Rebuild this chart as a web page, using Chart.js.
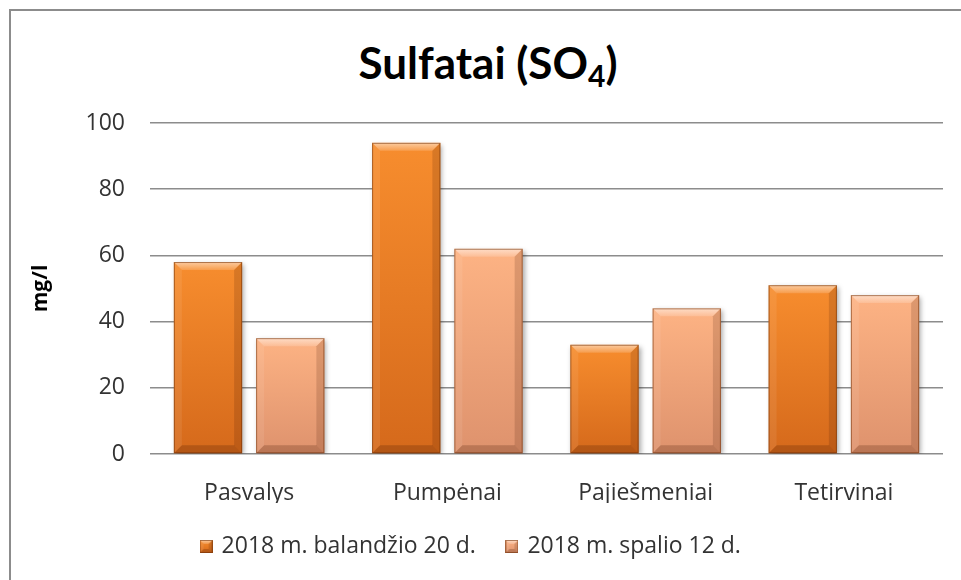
<!DOCTYPE html>
<html>
<head>
<meta charset="utf-8">
<script src="https://cdn.jsdelivr.net/npm/chart.js@4.4.1/dist/chart.umd.min.js"></script>
<style>
  html, body { margin: 0; padding: 0; background: #fff; overflow: hidden; }
  #wrap { position: relative; width: 961px; height: 580px; }
  #frame { position: absolute; left: 9px; top: 9px; width: 1000px; height: 700px; border: 2px solid #8c8c8c; border-right: none; border-bottom: none; }
  #title { position: absolute; left: 0; top: 36px; width: 976px; text-align: center; font-family: Lato, "Open Sans", sans-serif; font-weight: bold; font-size: 44px; color: #000; }
  #title sub { font-size: 30px; vertical-align: -8px; line-height: 0; }
  canvas { position: absolute; left: 0; top: 0; }
</style>
</head>
<body>
<div id="wrap">
  <div id="frame"></div>
  <div id="title">Sulfatai (SO<sub>4</sub>)</div>
  <canvas id="barChart" width="961" height="580"></canvas>
</div>
<script>
const categories = ['Pasvalys', 'Pumpėnai', 'Pajiešmeniai', 'Tetirvinai'];
const seriesNames = ['2018 m. balandžio 20 d.', '2018 m. spalio 12 d.'];
const aprilValues = [58, 94, 33, 51];
const octoberValues = [35, 62, 44, 48];
const yTicks = [0, 20, 40, 60, 80, 100];

const font = '"Open Sans", Lato, sans-serif';
const fontSize = 23;
const palette = [
    { top: '#f78d2e', bottom: '#d5691b' },
    { top: '#fdb384', bottom: '#de926d' }
];

// vertical gradient over the bar itself, from the value down to zero
function barFill(context) {
    const chart = context.chart;
    const colors = palette[context.datasetIndex];
    if (!chart.chartArea || context.raw === undefined) return colors.top;
    const y = chart.scales.y;
    const g = chart.ctx.createLinearGradient(0, y.getPixelForValue(context.raw), 0, y.getPixelForValue(0));
    g.addColorStop(0, colors.top);
    g.addColorStop(1, colors.bottom);
    return g;
}

// small bevelled square for the legend
function legendSwatch(colors) {
    const c = document.createElement('canvas');
    c.width = 13; c.height = 13;
    const x = c.getContext('2d');
    const g = x.createLinearGradient(0, 0, 0, 13);
    g.addColorStop(0, colors.top);
    g.addColorStop(1, colors.bottom);
    x.fillStyle = g;
    x.fillRect(0, 0, 13, 13);
    bevel(x, 0, 0, 13, 13, 4);
    return c;
}

function bevel(ctx, l, t, r, b, s) {
    const poly = (pts, fill) => {
        ctx.beginPath();
        ctx.moveTo(pts[0][0], pts[0][1]);
        for (let i = 1; i < pts.length; i++) ctx.lineTo(pts[i][0], pts[i][1]);
        ctx.closePath();
        ctx.fillStyle = fill;
        ctx.fill();
    };
    const tg = ctx.createLinearGradient(0, t, 0, t + s);
    tg.addColorStop(0, 'rgba(255,255,255,0.55)');
    tg.addColorStop(1, 'rgba(255,255,255,0.15)');
    poly([[l, t], [r, t], [r - s, t + s], [l + s, t + s]], tg);
    poly([[l, t], [l + s, t + s], [l + s, b - s], [l, b]], 'rgba(255,255,255,0.08)');
    poly([[r, t], [r, b], [r - s, b - s], [r - s, t + s]], 'rgba(60,20,0,0.16)');
    poly([[l, b], [l + s, b - s], [r - s, b - s], [r, b]], 'rgba(60,20,0,0.22)');
    ctx.strokeStyle = 'rgba(110,45,5,0.55)';
    ctx.lineWidth = 1;
    ctx.strokeRect(l + 0.5, t + 0.5, r - l - 1, b - t - 1);
}

const barBevel = {
    id: 'barBevel',
    beforeDatasetsDraw(chart) {
        const ctx = chart.ctx;
        ctx.save();
        ctx.shadowColor = 'rgba(0,0,0,0.35)';
        ctx.shadowBlur = 5;
        ctx.shadowOffsetX = 2;
        ctx.shadowOffsetY = 2;
    },
    afterDatasetsDraw(chart) {
        const ctx = chart.ctx;
        ctx.restore();
        ctx.save();
        chart.data.datasets.forEach((ds, i) => {
            chart.getDatasetMeta(i).data.forEach(bar => {
                const p = bar.getProps(['x', 'y', 'width', 'base'], true);
                bevel(ctx, p.x - p.width / 2, p.y, p.x + p.width / 2, p.base, 8);
            });
        });
        ctx.restore();
    }
};

new Chart(document.getElementById('barChart'), {
    type: 'bar',
    data: {
        labels: categories,
        datasets: [
            { label: seriesNames[0], data: aprilValues, backgroundColor: barFill, pointStyle: legendSwatch(palette[0]) },
            { label: seriesNames[1], data: octoberValues, backgroundColor: barFill, pointStyle: legendSwatch(palette[1]) }
        ]
    },
    options: {
        responsive: false,
        animation: false,
        events: [],
        categoryPercentage: 0.83,
        barPercentage: 0.83,
        layout: { padding: { top: 123, right: 18, bottom: 12, left: 0 } },
        scales: {
            x: {
                afterFit(scale) { scale.height = 49; },
                grid: { display: false },
                border: { display: false },
                ticks: { color: '#333', padding: 18, font: { family: font, size: fontSize } }
            },
            y: {
                min: 0,
                max: 100,
                afterBuildTicks(scale) { scale.ticks = yTicks.map(v => ({ value: v })); },
                afterFit(scale) { scale.width = 150; },
                grid: { color: '#8c8c8c', lineWidth: 1.5, drawTicks: false },
                border: { display: false },
                ticks: { color: '#333', padding: 25, font: { family: font, size: fontSize } },
                title: { display: true, text: 'mg/l', color: '#000', padding: { top: 28, bottom: 0 }, font: { family: font, size: 21, weight: 'bold' } }
            }
        },
        plugins: {
            legend: {
                position: 'bottom',
                labels: { usePointStyle: true, boxWidth: 8, padding: 32, color: '#333', font: { family: font, size: fontSize } }
            },
            tooltip: { enabled: false }
        }
    },
    plugins: [barBevel]
});
</script>
</body>
</html>
